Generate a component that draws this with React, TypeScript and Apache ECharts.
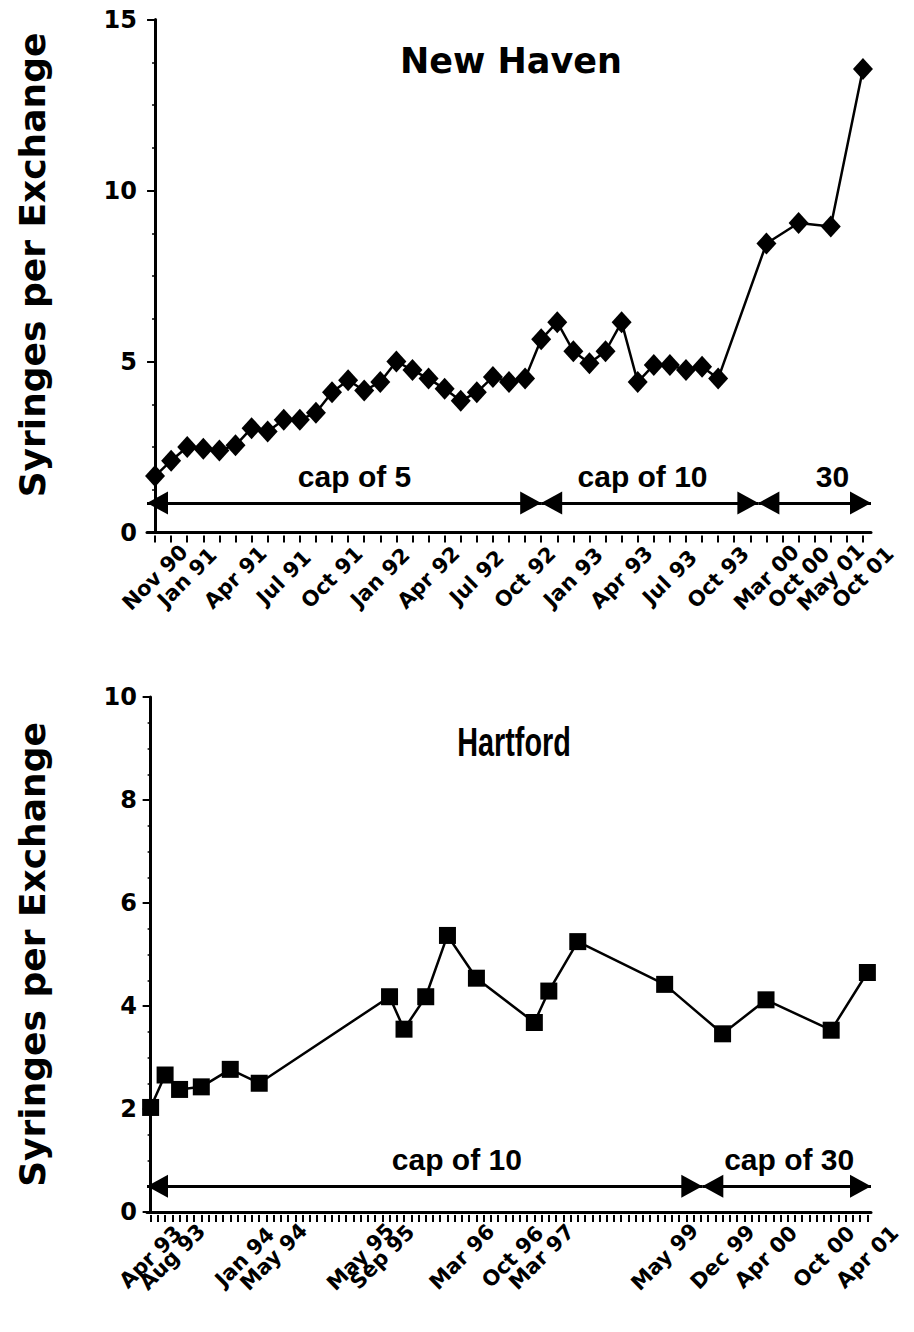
import React, { useEffect, useRef } from "react";
import * as echarts from "echarts";

// ---------- New Haven (top) ----------
const nhTickLabels = [
  "Nov 90", "", "Jan 91", "", "", "Apr 91", "", "", "Jul 91", "", "", "Oct 91", "", "",
  "Jan 92", "", "", "Apr 92", "", "", "Jul 92", "", "", "Oct 92", "", "", "Jan 93", "", "",
  "Apr 93", "", "", "Jul 93", "", "", "Oct 93", "", "", "Mar 00", "", "Oct 00", "", "May 01", "", "Oct 01",
];
const nhValues = [
  1.65, 2.1, 2.5, 2.45, 2.4, 2.55, 3.05, 2.95, 3.3, 3.3, 3.5, 4.1, 4.45, 4.15, 4.4, 5.0,
  4.75, 4.5, 4.2, 3.85, 4.1, 4.55, 4.4, 4.5, 5.65, 6.15, 5.3, 4.95, 5.3, 6.15, 4.4, 4.9,
  4.9, 4.75, 4.85, 4.5, null, null, 8.45, null, 9.05, null, 8.95, null, 13.55,
];
const nhCapLabels = ["cap of 5", "cap of 10", "30"];
const nhCapFrom = [-0.5, 24, 37.5];
const nhCapTo = [24, 37.5, 44.5];
const nhCapY = 0.86;
const nhCapLabelX = [12.4, 30.3, 42.1];
const nhCapLabelY = 1.65;

// ---------- Hartford (bottom) ----------
const hfSlotCount = 100;
const hfPointSlots = [0, 2, 4, 7, 11, 15, 33, 35, 38, 41, 45, 53, 55, 59, 71, 79, 85, 94, 99];
const hfValues = [2.03, 2.66, 2.38, 2.43, 2.77, 2.5, 4.18, 3.55, 4.18, 5.37, 4.54, 3.68, 4.29, 5.25, 4.42, 3.46, 4.12, 3.53, 4.65];
const hfLabelSlots = [0, 3, 13, 17, 29, 32, 43, 50, 54, 71, 79, 85, 93, 99];
const hfLabelTexts = ["Apr 93", "Aug 93", "Jan 94", "May 94", "May 95", "Sep 95", "Mar 96", "Oct 96", "Mar 97", "May 99", "Dec 99", "Apr 00", "Oct 00", "Apr 01"];
const hfCapLabels = ["cap of 10", "cap of 30"];
const hfCapFrom = [-0.5, 76.2];
const hfCapTo = [76.2, 99.5];
const hfCapY = 0.5;
const hfCapLabelX = [42.3, 88.2];
const hfCapLabelY = 1.02;

const HEAVY = "'DejaVu Sans', Verdana, sans-serif";
const HELV = "'Liberation Sans', Arial, sans-serif";
const BLACK = "#000";
const HEAD = [23, 21];

function buildPanel(p: {
  gi: number; top: number; height: number; keys: string[]; labels: string[];
  ymax: number; yInterval: number; minorSplit: number; namePad: number[];
  data: any[]; symbol: string; symbolSize: any;
  capLabels: string[]; capFrom: number[]; capTo: number[]; capY: number;
  capLabelX: number[]; capLabelY: number;
}) {
  const grid = { left: 147, top: p.top, width: 724, height: p.height };
  const xMain = {
    type: "category", gridIndex: p.gi, data: p.keys, boundaryGap: true,
    axisLine: { show: true, onZero: false, lineStyle: { color: BLACK, width: 3 } },
    axisTick: { show: false }, axisLabel: { show: false }, splitLine: { show: false },
  };
  const xTicks = {
    type: "category", gridIndex: p.gi, data: p.keys, boundaryGap: true, position: "bottom", offset: 3,
    axisLine: { show: false, onZero: false },
    axisTick: { show: true, alignWithLabel: true, interval: 0, length: 7, lineStyle: { color: BLACK, width: 2 } },
    axisLabel: {
      interval: 0, rotate: 45, margin: 42, align: "center", verticalAlign: "middle",
      color: BLACK, fontFamily: HEAVY, fontWeight: "bold", fontSize: 21,
      formatter: (_v: string, i: number) => p.labels[i],
    },
    splitLine: { show: false },
  };
  const xVal = { type: "value", gridIndex: p.gi, min: -0.5, max: p.keys.length - 0.5, show: false };
  const y = {
    type: "value", gridIndex: p.gi, min: 0, max: p.ymax, interval: p.yInterval,
    axisLine: { show: true, lineStyle: { color: BLACK, width: 3 } },
    axisTick: { show: true, length: 8, lineStyle: { color: BLACK, width: 2 } },
    minorTick: { show: true, splitNumber: p.minorSplit, length: 3, lineStyle: { color: BLACK, width: 1.5 } },
    splitLine: { show: false },
    axisLabel: { color: BLACK, fontFamily: HEAVY, fontWeight: "bold", fontSize: 24, margin: 10 },
    name: "Syringes per Exchange", nameLocation: "middle", nameGap: 97, nameRotate: 90,
    nameTextStyle: { color: BLACK, fontFamily: HEAVY, fontWeight: "bold", fontSize: 36, padding: p.namePad },
  };
  const end = (x: number) => ({ coord: [x, p.capY], symbolSize: HEAD, symbolOffset: [0, 10.5] });
  const series = [
    {
      type: "line", xAxisIndex: p.gi * 3, yAxisIndex: p.gi, data: p.data, connectNulls: true,
      symbol: p.symbol, symbolSize: p.symbolSize, showAllSymbol: true,
      itemStyle: { color: BLACK }, lineStyle: { color: BLACK, width: 2.5 },
    },
    {
      type: "line", xAxisIndex: p.gi * 3 + 2, yAxisIndex: p.gi, data: [], symbol: "none",
      markLine: {
        silent: true, symbol: ["triangle", "triangle"], symbolSize: 21,
        lineStyle: { color: BLACK, width: 3, type: "solid" }, label: { show: false },
        data: p.capFrom.map((f, i) => [end(f), end(p.capTo[i])]),
      },
      markPoint: {
        silent: true, symbol: "circle", symbolSize: 0,
        label: { show: true, position: "inside", color: BLACK, fontFamily: HELV, fontWeight: "bold", fontSize: 30, formatter: (d: any) => d.name },
        data: p.capLabels.map((t, i) => ({ name: t, coord: [p.capLabelX[i], p.capLabelY] })),
      },
    },
  ];
  return { grid, xAxes: [xMain, xTicks, xVal], y, series };
}

export default function App() {
  const ref = useRef<HTMLDivElement>(null);
  useEffect(() => {
    if (!ref.current) return;
    const chart = echarts.init(ref.current, undefined, { renderer: "svg" });

    const nhKeys = nhTickLabels.map((_, i) => "n" + i);
    const hfKeys: string[] = [];
    const hfLabels: string[] = [];
    const hfData: any[] = [];
    for (let i = 0; i < hfSlotCount; i++) { hfKeys.push("h" + i); hfLabels.push(""); hfData.push(null); }
    hfLabelSlots.forEach((s, i) => { hfLabels[s] = hfLabelTexts[i]; });
    hfPointSlots.forEach((s, i) => { hfData[s] = hfValues[i]; });

    const top = buildPanel({
      gi: 0, top: 19.5, height: 513, keys: nhKeys, labels: nhTickLabels, ymax: 15, yInterval: 5,
      minorSplit: 4, namePad: [0, 0, 0, 22], data: nhValues, symbol: "diamond", symbolSize: [20, 22],
      capLabels: nhCapLabels, capFrom: nhCapFrom, capTo: nhCapTo, capY: nhCapY, capLabelX: nhCapLabelX, capLabelY: nhCapLabelY,
    });
    const bot = buildPanel({
      gi: 1, top: 697, height: 515, keys: hfKeys, labels: hfLabels, ymax: 10, yInterval: 2,
      minorSplit: 4, namePad: [0, 0, 0, 0], data: hfData, symbol: "rect", symbolSize: 17,
      capLabels: hfCapLabels, capFrom: hfCapFrom, capTo: hfCapTo, capY: hfCapY, capLabelX: hfCapLabelX, capLabelY: hfCapLabelY,
    });

    chart.setOption({
      animation: false,
      backgroundColor: "#fff",
      graphic: [
        { type: "text", x: 511, y: 61, silent: true, style: { text: "New Haven", fill: BLACK, font: `bold 35px ${HEAVY}`, align: "center", verticalAlign: "middle" } },
        { type: "text", x: 514, y: 742, scaleX: 0.72, silent: true, style: { text: "Hartford", fill: BLACK, font: `bold 40px ${HELV}`, align: "center", verticalAlign: "middle" } },
      ],
      grid: [top.grid, bot.grid],
      xAxis: [...top.xAxes, ...bot.xAxes],
      yAxis: [top.y, bot.y],
      series: [...top.series, ...bot.series],
    });
    return () => chart.dispose();
  }, []);
  return <div ref={ref} style={{ position: "absolute", left: 0, top: 0, width: 914, height: 1332, background: "#fff" }} />;
}
